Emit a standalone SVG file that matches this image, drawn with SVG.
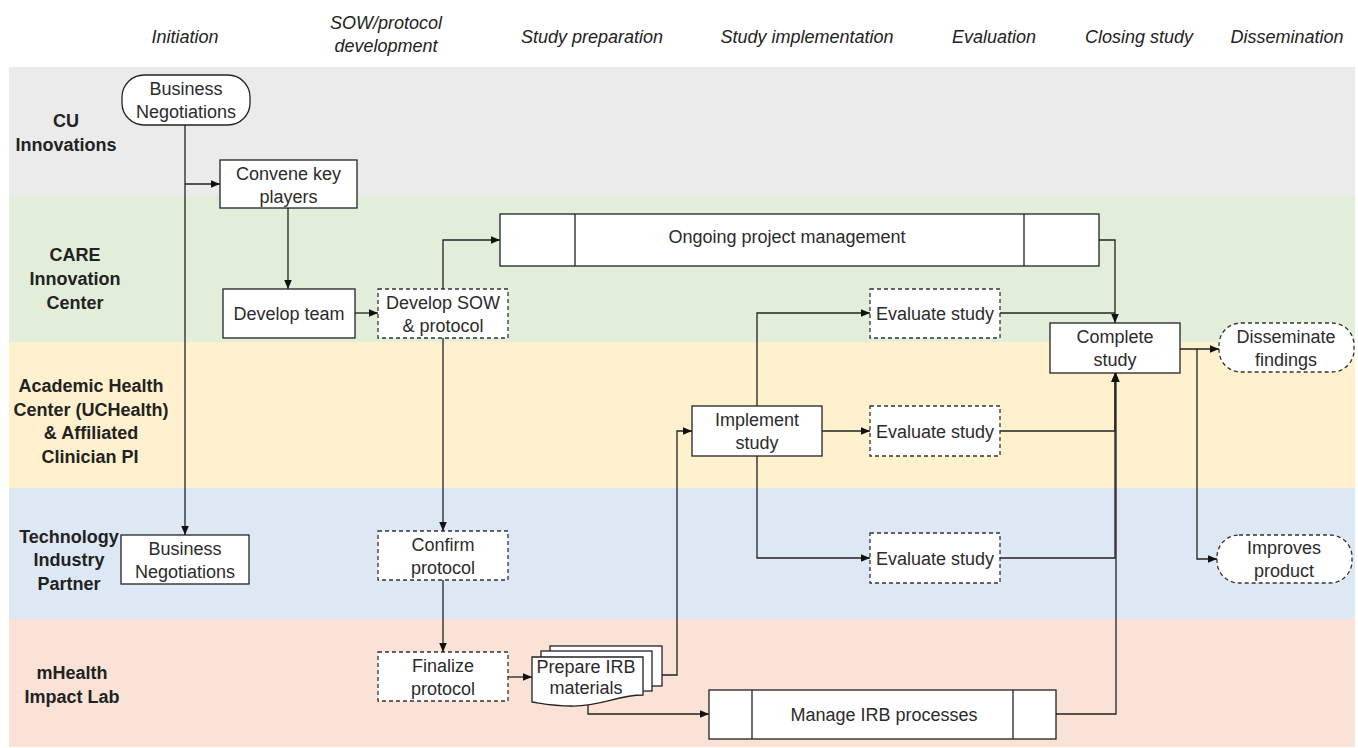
<svg xmlns="http://www.w3.org/2000/svg" width="1358" height="748" viewBox="0 0 1358 748">
<defs>
<style>
.hdr{font-family:"Liberation Sans",Arial,sans-serif;font-size:18px;font-style:italic;fill:#222;text-anchor:middle}
.lane{font-family:"Liberation Sans",Arial,sans-serif;font-size:18px;font-weight:bold;fill:#222;text-anchor:middle}
.t{font-family:"Liberation Sans",Arial,sans-serif;font-size:18px;fill:#2b2b2b;text-anchor:middle}
.box{fill:#fff;stroke:#222;stroke-width:1.3}
.dash{fill:#fff;stroke:#333;stroke-width:1.3;stroke-dasharray:4 3}
.c{fill:none;stroke:#222;stroke-width:1.3}
</style>
<marker id="ah" viewBox="0 0 10 10" refX="10" refY="5" markerWidth="9" markerHeight="9" markerUnits="userSpaceOnUse" orient="auto">
<path d="M0,0.8 L10,5 L0,9.2 z" fill="#111"/>
</marker>
</defs>
<rect width="1358" height="748" fill="#fff"/>

<g id="headers">
<text class="hdr" x="185" y="43">Initiation</text>
<text class="hdr" x="386" y="29">SOW/protocol</text>
<text class="hdr" x="386" y="52">development</text>
<text class="hdr" x="592" y="43">Study preparation</text>
<text class="hdr" x="807" y="43">Study implementation</text>
<text class="hdr" x="994" y="43">Evaluation</text>
<text class="hdr" x="1139" y="43">Closing study</text>
<text class="hdr" x="1287" y="43">Dissemination</text>
</g>

<g id="lanes">
<rect x="9" y="67" width="1346" height="129" fill="#ebebeb"/>
<rect x="9" y="196" width="1346" height="146" fill="#e2eeda"/>
<rect x="9" y="342" width="1346" height="146" fill="#fff1cd"/>
<rect x="9" y="488" width="1346" height="131" fill="#dee8f5"/>
<rect x="9" y="619" width="1346" height="128" fill="#fae3d6"/>
<text class="lane" x="66" y="127">CU</text>
<text class="lane" x="66" y="151">Innovations</text>
<text class="lane" x="75" y="261">CARE</text>
<text class="lane" x="75" y="285">Innovation</text>
<text class="lane" x="75" y="309">Center</text>
<text class="lane" x="91" y="392">Academic Health</text>
<text class="lane" x="91" y="416">Center (UCHealth)</text>
<text class="lane" x="91" y="439">&amp; Affiliated</text>
<text class="lane" x="90" y="463">Clinician PI</text>
<text class="lane" x="69" y="543">Technology</text>
<text class="lane" x="69" y="566">Industry</text>
<text class="lane" x="69" y="590">Partner</text>
<text class="lane" x="72" y="679">mHealth</text>
<text class="lane" x="72" y="703">Impact Lab</text>
</g>

<g id="connectors">
<path class="c" d="M185,125 V535" marker-end="url(#ah)"/>
<path class="c" d="M185,184 H220" marker-end="url(#ah)"/>
<path class="c" d="M288,208 V289" marker-end="url(#ah)"/>
<path class="c" d="M355,313 H378" marker-end="url(#ah)"/>
<path class="c" d="M443,289 V240 H500" marker-end="url(#ah)"/>
<path class="c" d="M443,338 V531" marker-end="url(#ah)"/>
<path class="c" d="M443,580 V652" marker-end="url(#ah)"/>
<path class="c" d="M508,677 H532" marker-end="url(#ah)"/>
<path class="c" d="M662,675 H677 V431 H692" marker-end="url(#ah)"/>
<path class="c" d="M588,705 V714 H709" marker-end="url(#ah)"/>
<path class="c" d="M757,406 V313 H870" marker-end="url(#ah)"/>
<path class="c" d="M822,431 H870" marker-end="url(#ah)"/>
<path class="c" d="M757,456 V558 H870" marker-end="url(#ah)"/>
<path class="c" d="M1099,240 H1115 V323" marker-end="url(#ah)"/>
<path class="c" d="M1000,313 H1115"/>
<path class="c" d="M1000,431 H1115 V373" marker-end="url(#ah)"/>
<path class="c" d="M1000,558 H1115 V373" marker-end="url(#ah)"/>
<path class="c" d="M1056,714 H1116 V373" marker-end="url(#ah)"/>
<path class="c" d="M1180,349 H1219" marker-end="url(#ah)"/>
<path class="c" d="M1197,349 V559 H1217" marker-end="url(#ah)"/>
</g>

<g id="n-bn-cu">
<rect class="box" x="122" y="75" width="128" height="50" rx="22" ry="22"/>
<text class="t" x="186" y="95">Business</text>
<text class="t" x="186" y="118">Negotiations</text>
</g>
<g id="n-convene">
<rect class="box" x="220" y="160" width="137" height="48"/>
<text class="t" x="288.5" y="180">Convene key</text>
<text class="t" x="288.5" y="203">players</text>
</g>
<g id="n-devteam">
<rect class="box" x="223" y="289" width="132" height="49"/>
<text class="t" x="289" y="320">Develop team</text>
</g>
<g id="n-devsow">
<rect class="dash" x="378" y="289" width="130" height="49"/>
<text class="t" x="443" y="308.5">Develop SOW</text>
<text class="t" x="443" y="331.5">&amp; protocol</text>
</g>
<g id="n-ongoing">
<rect class="box" x="500" y="214" width="599" height="52"/>
<line class="c" x1="575" y1="214" x2="575" y2="266"/>
<line class="c" x1="1024" y1="214" x2="1024" y2="266"/>
<text class="t" x="787" y="243">Ongoing project management</text>
</g>
<g id="n-eval1">
<rect class="dash" x="870" y="289" width="130" height="49"/>
<text class="t" x="935" y="320">Evaluate study</text>
</g>
<g id="n-complete">
<rect class="box" x="1050" y="323" width="130" height="50"/>
<text class="t" x="1115" y="343">Complete</text>
<text class="t" x="1115" y="366">study</text>
</g>
<g id="n-disseminate">
<rect class="dash" x="1219" y="323" width="135" height="49" rx="22" ry="22"/>
<text class="t" x="1286" y="343">Disseminate</text>
<text class="t" x="1286" y="366">findings</text>
</g>
<g id="n-implement">
<rect class="box" x="692" y="406" width="130" height="50"/>
<text class="t" x="757" y="426">Implement</text>
<text class="t" x="757" y="449">study</text>
</g>
<g id="n-eval2">
<rect class="dash" x="870" y="406" width="130" height="50"/>
<text class="t" x="935" y="437.5">Evaluate study</text>
</g>
<g id="n-bn-tech">
<rect class="box" x="121" y="535" width="128" height="49"/>
<text class="t" x="185" y="554.5">Business</text>
<text class="t" x="185" y="577.5">Negotiations</text>
</g>
<g id="n-confirm">
<rect class="dash" x="378" y="531" width="130" height="49"/>
<text class="t" x="443" y="550.5">Confirm</text>
<text class="t" x="443" y="573.5">protocol</text>
</g>
<g id="n-eval3">
<rect class="dash" x="870" y="533" width="130" height="50"/>
<text class="t" x="935" y="564.5">Evaluate study</text>
</g>
<g id="n-improves">
<rect class="dash" x="1217" y="535" width="135" height="48" rx="22" ry="22"/>
<text class="t" x="1284" y="554">Improves</text>
<text class="t" x="1284" y="577">product</text>
</g>
<g id="n-finalize">
<rect class="dash" x="378" y="652" width="130" height="49"/>
<text class="t" x="443" y="671.5">Finalize</text>
<text class="t" x="443" y="694.5">protocol</text>
</g>
<g id="n-prepare-irb">
<rect class="box" x="550" y="646" width="112" height="40"/>
<rect class="box" x="541" y="651" width="111" height="40"/>
<path class="box" d="M532,657 H643 V695 C617,695 600,707 571,706 C555,706 545,704 532,702 Z"/>
<text class="t" x="586" y="673">Prepare IRB</text>
<text class="t" x="586" y="694">materials</text>
</g>
<g id="n-manage-irb">
<rect class="box" x="709" y="690" width="347" height="49"/>
<line class="c" x1="752" y1="690" x2="752" y2="739"/>
<line class="c" x1="1013" y1="690" x2="1013" y2="739"/>
<text class="t" x="884" y="721">Manage IRB processes</text>
</g>
</svg>
